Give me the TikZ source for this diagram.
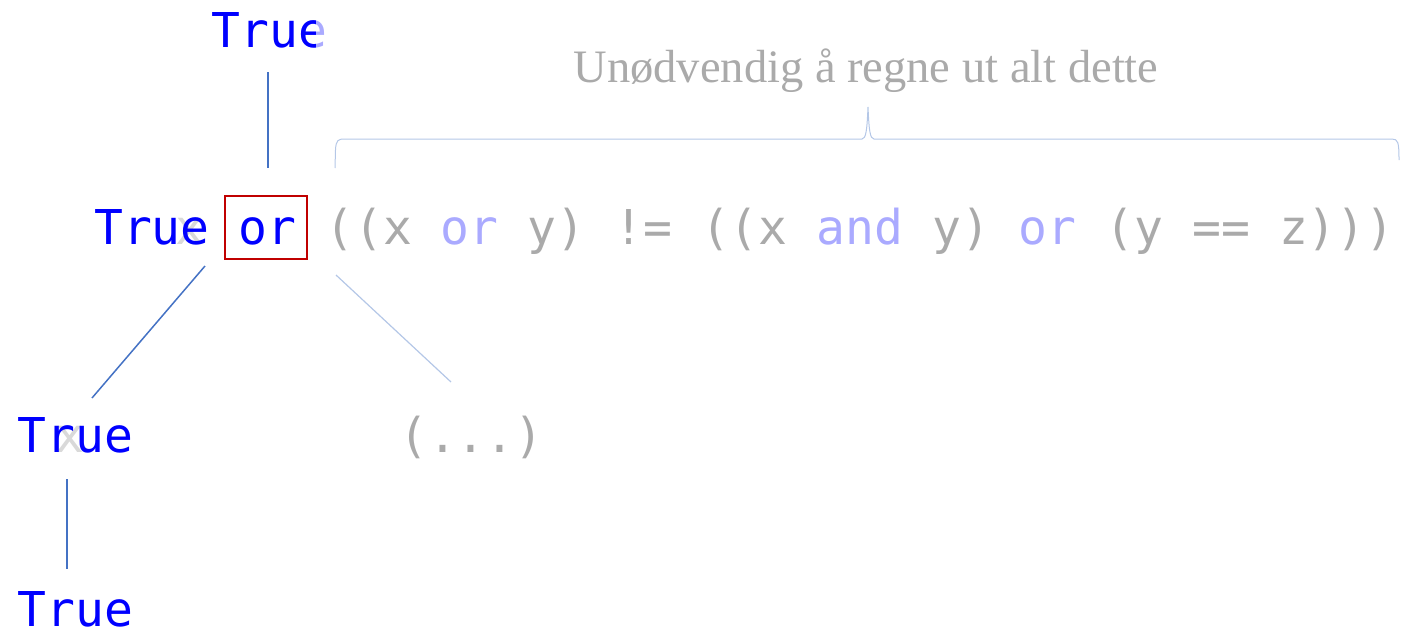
\documentclass[tikz,border=0pt]{standalone}
\usepackage{fontspec}
\setmainfont{Liberation Serif}
\setmonofont{DejaVu Sans Mono}
\definecolor{tblue}{HTML}{0000FF}
\definecolor{tkw}{HTML}{AAAAFF}
\definecolor{tgray}{HTML}{AAAAAA}
\definecolor{tghost}{HTML}{D9D9D9}
\definecolor{lndark}{HTML}{4472C4}
\definecolor{lnlight}{HTML}{B4C7E7}
\definecolor{boxred}{HTML}{C00000}
\begin{document}
\begin{tikzpicture}[x=1pt,y=-1pt,
  txt/.style={inner sep=0pt, anchor=base west, font=\ttfamily\fontsize{48}{50}\selectfont},
  edgedark/.style={draw=lndark, line width=1.5pt},
  edgelight/.style={draw=lnlight, line width=1.2pt},
  lbl/.style={inner sep=0pt, anchor=base, text=tgray, font=\fontsize{46.5}{50}\selectfont}]
\useasboundingbox (0,0) rectangle (1401,633);

% ghost characters behind
\node[txt, text=tghost] (ghostmid) at (175,244) {x};
\node[txt, text=tghost] (ghostleft) at (55,452) {x};
\node[txt, text=tkw] (ghosttop) at (298,47) {e};

% texts
\begin{scope}
  \clip (200,0) rectangle (315,60);
  \node[txt, text=tblue] (top) at (211.5,47) {True};
\end{scope}
\node[txt] (expr) at (94,244) {\textcolor{tblue}{True or} \textcolor{tgray}{((x} \textcolor{tkw}{or} \textcolor{tgray}{y) != ((x} \textcolor{tkw}{and} \textcolor{tgray}{y)} \textcolor{tkw}{or} \textcolor{tgray}{(y == z)))}};
\node[txt, text=tblue] (left) at (17.5,452) {True};
\node[txt, text=tblue] (bottom) at (17.5,626) {True};
\node[txt, text=tgray] (rest) at (399,452) {(...)};
\node[lbl] (label) at (866,82) {Unødvendig å regne ut alt dette};

% red box around "or"
\node[draw=boxred, line width=2pt, minimum width=82pt, minimum height=63pt, inner sep=0pt] (orbox) at (266,227.5) {};

% connectors
\coordinate (c1a) at (268,72);  \coordinate (c1b) at (268,168);
\coordinate (c2a) at (205,266); \coordinate (c2b) at (92,398);
\coordinate (c3a) at (336,275); \coordinate (c3b) at (451,382);
\coordinate (c4a) at (67,479);  \coordinate (c4b) at (67,569);
\draw[edgedark] (c1a) -- (c1b);
\draw[edgedark] (c2a) -- (c2b);
\draw[edgelight] (c3a) -- (c3b);
\draw[edgedark] (c4a) -- (c4b);

% brace
\coordinate (bl) at (335,168);
\coordinate (bpeak) at (868,107);
\coordinate (br) at (1399,160);
\draw[edgelight, line width=1pt] (bl) -- (335.5,150) .. controls (336,140) and (338,139) .. (345,139)
  -- (862,139) .. controls (866,139) and (867,130) .. (bpeak)
  .. controls (869,130) and (870,139) .. (874,139)
  -- (1392,139) .. controls (1398,139) and (1399,142) .. (br);
\end{tikzpicture}
\end{document}
